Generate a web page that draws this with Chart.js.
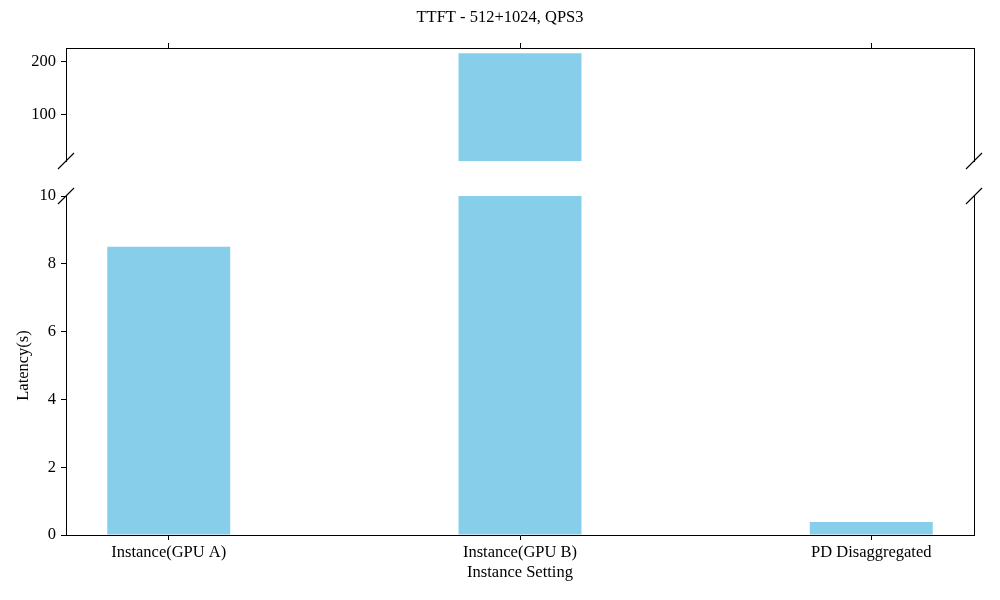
<!DOCTYPE html>
<html lang="en">
<head>
    <meta charset="UTF-8">
    <title>TTFT - 512+1024, QPS3</title>
    <script src="https://cdn.jsdelivr.net/npm/chart.js"></script>
    <style>
        body{ margin:0; background:#fff; }
        #wrapper{ position:relative; width:1000px; height:600px; }
        #wrapper canvas{ position:absolute; left:0; top:0; }
    </style>
</head>
<body>
    <div id="wrapper">
        <canvas id="topChart" width="1000" height="600"></canvas>
        <canvas id="bottomChart" width="1000" height="600"></canvas>
    </div>

<script>
    // data
    const categories = ['Instance(GPU A)', 'Instance(GPU B)', 'PD Disaggregated'];
    const latency = [8.5, 215, 0.38];
    const upperTicks = [100, 200];
    const lowerTicks = [0, 2, 4, 6, 8, 10];
    const upperRange = [13, 225];
    const lowerRange = [0, 10];

    const FONT = { family: '"Liberation Serif", "Times New Roman", serif', size: 16.5 };
    const barColor = '#87CEEB';

    const points = latency.map((v, i) => ({ x: i, y: v }));

    // diagonal break marks on the broken edge
    const breakMarks = {
        id: 'breakMarks',
        afterDraw(chart, args, opts) {
            const { ctx, chartArea } = chart;
            const y = opts.edge === 'bottom' ? chartArea.bottom : chartArea.top;
            ctx.save();
            ctx.strokeStyle = '#000';
            ctx.lineWidth = 1.1;
            [chartArea.left, chartArea.right].forEach(x => {
                ctx.beginPath();
                ctx.moveTo(x - 8, y + 8);
                ctx.lineTo(x + 8, y - 8);
                ctx.stroke();
            });
            ctx.restore();
        }
    };

    const xScale = (showLabels, pos) => ({
        type: 'linear',
        position: pos,
        min: -0.2925,
        max: 2.2925,
        offset: false,
        afterBuildTicks: (s) => { s.ticks = categories.map((c, i) => ({ value: i })); },
        afterFit: (s) => { s.height = showLabels ? 65 : 5; },
        grid: { drawOnChartArea: false, tickLength: 5, color: '#000', offset: false },
        border: { display: true, color: '#000', width: 1 },
        ticks: {
            display: showLabels,
            autoSkip: false,
            maxRotation: 0,
            padding: 3,
            color: '#000',
            font: FONT,
            callback: (v) => categories[v]
        },
        title: {
            display: showLabels,
            text: 'Instance Setting',
            color: '#000',
            font: FONT,
            padding: { top: 0, bottom: 17 }
        }
    });

    const yScale = (range, tickVals, withTitle) => ({
        position: 'left',
        min: range[0],
        max: range[1],
        afterBuildTicks: (s) => { s.ticks = tickVals.map(v => ({ value: v })); },
        afterFit: (s) => { s.width = 66; },
        grid: { drawOnChartArea: false, tickLength: 5, color: '#000' },
        border: { display: true, color: '#000', width: 1 },
        ticks: { padding: 5, color: '#000', font: FONT },
        title: {
            display: withTitle,
            text: 'Latency(s)',
            color: '#000',
            font: FONT,
            padding: { top: 14, bottom: 0 }
        }
    });

    // right spine only
    const rightScale = (range) => ({
        position: 'right',
        min: range[0],
        max: range[1],
        afterFit: (s) => { s.width = 26; },
        grid: { display: false },
        ticks: { display: false },
        border: { display: true, color: '#000', width: 1 }
    });

    const dataset = {
        data: points,
        backgroundColor: barColor,
        borderWidth: 0,
        categoryPercentage: 1,
        barPercentage: 0.35
    };

    new Chart(document.getElementById('topChart'), {
        type: 'bar',
        data: { datasets: [ { ...dataset } ] },
        options: {
            responsive: false,
            animation: false,
            layout: { padding: { top: 0, left: 0, right: 0, bottom: 439 } },
            plugins: {
                legend: { display: false },
                tooltip: { enabled: false },
                title: {
                    display: true,
                    text: 'TTFT - 512+1024, QPS3',
                    color: '#000',
                    font: { ...FONT, weight: 'normal' },
                    padding: { top: 8, bottom: 15.2 }
                },
                breakMarks: { edge: 'bottom' }
            },
            scales: {
                x: xScale(false, 'top'),
                y: yScale(upperRange, upperTicks, false),
                y2: rightScale(upperRange)
            }
        },
        plugins: [breakMarks]
    });

    new Chart(document.getElementById('bottomChart'), {
        type: 'bar',
        data: { datasets: [ { ...dataset } ] },
        options: {
            responsive: false,
            animation: false,
            layout: { padding: { top: 196, left: 0, right: 0, bottom: 0 } },
            plugins: {
                legend: { display: false },
                tooltip: { enabled: false },
                breakMarks: { edge: 'top' }
            },
            scales: {
                x: xScale(true, 'bottom'),
                y: yScale(lowerRange, lowerTicks, true),
                y2: rightScale(lowerRange)
            }
        },
        plugins: [breakMarks]
    });
</script>
</body>
</html>
